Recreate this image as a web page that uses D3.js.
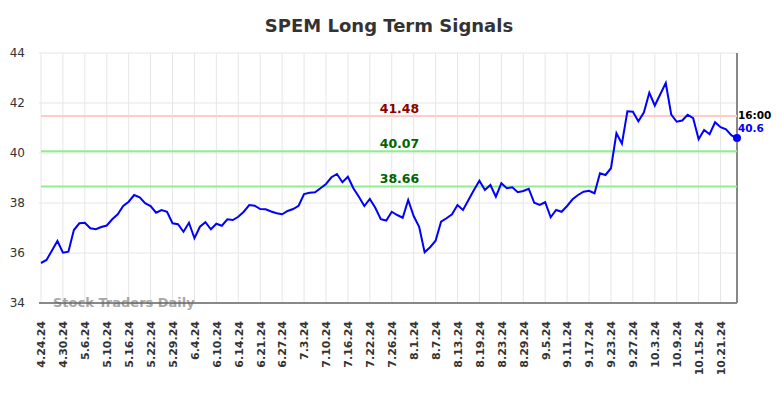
<!DOCTYPE html>
<meta charset="utf-8">
<head>
  <title>SPEM Long Term Signals</title>
</head>

<style>
body {
  margin: 0;
  font-family: "DejaVu Sans", sans-serif;
  background: #fff;
}

#chart .grid line {
  stroke: #e6e6e6;
  stroke-width: 1;
}

#chart .price {
  fill: none;
  stroke: #0000ff;
  stroke-width: 2;
}
</style>

<body>
  <div id="chart">
    <svg width="784" height="398"></svg>
  </div>

  <script src="https://cdnjs.cloudflare.com/ajax/libs/d3/7.8.5/d3.min.js"></script>

  <script>

  // trading days, 4.24.24 .. 10.24.24
  var dates = [
    "4.24.24","4.25.24","4.26.24","4.29.24","4.30.24",
    "5.1.24","5.2.24","5.3.24","5.6.24","5.7.24","5.8.24","5.9.24","5.10.24",
    "5.13.24","5.14.24","5.15.24","5.16.24","5.17.24","5.20.24","5.21.24","5.22.24",
    "5.23.24","5.24.24","5.28.24","5.29.24","5.30.24","5.31.24",
    "6.3.24","6.4.24","6.5.24","6.6.24","6.7.24","6.10.24","6.11.24","6.12.24","6.13.24","6.14.24",
    "6.17.24","6.18.24","6.20.24","6.21.24","6.24.24","6.25.24","6.26.24","6.27.24","6.28.24",
    "7.1.24","7.2.24","7.3.24","7.5.24","7.8.24","7.9.24","7.10.24","7.11.24","7.12.24",
    "7.15.24","7.16.24","7.17.24","7.18.24","7.19.24","7.22.24","7.23.24","7.24.24","7.25.24","7.26.24",
    "7.29.24","7.30.24","7.31.24",
    "8.1.24","8.2.24","8.5.24","8.6.24","8.7.24","8.8.24","8.9.24","8.12.24","8.13.24","8.14.24",
    "8.15.24","8.16.24","8.19.24","8.20.24","8.21.24","8.22.24","8.23.24","8.26.24","8.27.24","8.28.24",
    "8.29.24","8.30.24",
    "9.3.24","9.4.24","9.5.24","9.6.24","9.9.24","9.10.24","9.11.24","9.12.24","9.13.24","9.16.24",
    "9.17.24","9.18.24","9.19.24","9.20.24","9.23.24","9.24.24","9.25.24","9.26.24","9.27.24","9.30.24",
    "10.1.24","10.2.24","10.3.24","10.4.24","10.7.24","10.8.24","10.9.24","10.10.24","10.11.24",
    "10.14.24","10.15.24","10.16.24","10.17.24","10.18.24","10.21.24","10.22.24","10.23.24","10.24.24"
  ];

  var prices = [
    35.6, 35.72, 36.1, 36.48, 36.01, 36.05, 36.92, 37.19, 37.21, 36.99,
    36.95, 37.04, 37.1, 37.35, 37.55, 37.88, 38.05, 38.32, 38.23, 37.99,
    37.88, 37.61, 37.72, 37.65, 37.19, 37.15, 36.85, 37.21, 36.59, 37.05,
    37.23, 36.95, 37.17, 37.09, 37.35, 37.32, 37.45, 37.65, 37.92, 37.89,
    37.76, 37.75, 37.66, 37.59, 37.55, 37.68, 37.76, 37.89, 38.36, 38.41,
    38.43, 38.59, 38.76, 39.03, 39.16, 38.83, 39.05, 38.59, 38.25, 37.88,
    38.16, 37.81, 37.35, 37.3, 37.65, 37.52, 37.41, 38.12, 37.48, 37.05,
    36.03, 36.23, 36.49, 37.25, 37.39, 37.55, 37.92, 37.72, 38.12, 38.52,
    38.89, 38.52, 38.72, 38.25, 38.79, 38.59, 38.63, 38.43, 38.48, 38.57,
    38.01, 37.92, 38.03, 37.43, 37.72, 37.65, 37.88, 38.15, 38.32, 38.45,
    38.49, 38.39, 39.19, 39.12, 39.39, 40.79, 40.37, 41.67, 41.65, 41.27,
    41.62, 42.41, 41.9, 42.35, 42.8, 41.54, 41.25, 41.3, 41.53, 41.39,
    40.55, 40.92, 40.75, 41.23, 41.03, 40.95, 40.7, 40.6
  ];

  var yTicks = [34, 36, 38, 40, 42, 44];

  var levels = [41.48, 40.07, 38.66];
  var levelKinds = ["resistance", "support", "support"];

  var lastTime = "16:00";

  var svg = d3.select('#chart svg');

  var plotLeft = 41, plotRight = 737, plotTop = 53, plotBottom = 303;

  var x = d3.scaleLinear()
    .domain([0, dates.length - 1])
    .range([plotLeft, plotRight]);

  var y = d3.scaleLinear()
    .domain([34, 44])
    .range([plotBottom, plotTop]);

  // every 4th trading day gets a label
  var labelIdx = d3.range(0, dates.length, 4);

  var grid = svg.append('g').attr('class', 'grid');

  grid.selectAll('line.v')
    .data(labelIdx)
    .enter().append('line')
    .attr('class', 'v')
    .attr('x1', d => x(d)).attr('x2', d => x(d))
    .attr('y1', plotTop).attr('y2', plotBottom);

  grid.selectAll('line.h')
    .data(yTicks)
    .enter().append('line')
    .attr('class', 'h')
    .attr('x1', plotLeft - 2).attr('x2', plotRight)
    .attr('y1', d => y(d)).attr('y2', d => y(d));

  // y axis labels
  var yAxis = d3.axisLeft(y).tickValues(yTicks).tickSize(0).tickPadding(0);
  svg.append('g')
    .attr('transform', 'translate(' + (plotLeft - 16) + ',0)')
    .call(yAxis)
    .call(g => g.select('.domain').remove())
    .selectAll('text')
    .attr('fill', '#333')
    .style('font-family', '"DejaVu Sans", sans-serif')
    .style('font-size', '12px');

  // x axis labels, rotated
  var xAxis = d3.axisBottom(x)
    .tickValues(labelIdx)
    .tickFormat(d => dates[d])
    .tickSize(0);
  svg.append('g')
    .attr('transform', 'translate(0,' + plotBottom + ')')
    .call(xAxis)
    .call(g => g.select('.domain').remove())
    .selectAll('text')
    .attr('fill', '#333')
    .style('font-family', '"DejaVu Sans", sans-serif')
    .style('font-size', '11px')
    .style('font-weight', 'bold')
    .attr('text-anchor', 'end')
    .attr('transform', 'rotate(-90)')
    .attr('x', -18)
    .attr('y', 0)
    .attr('dy', '0.35em');

  // watermark
  svg.append('text')
    .attr('x', 53)
    .attr('y', 306.5)
    .attr('fill', '#999')
    .attr('opacity', 0.85)
    .style('font-size', '13px')
    .style('font-weight', 'bold')
    .text('Stock Traders Daily');

  // axis frame
  svg.append('line')
    .attr('x1', plotLeft - 2).attr('x2', plotRight)
    .attr('y1', plotBottom).attr('y2', plotBottom)
    .attr('stroke', '#666').attr('stroke-width', 1.5);
  svg.append('line')
    .attr('x1', plotRight).attr('x2', plotRight)
    .attr('y1', plotTop).attr('y2', plotBottom)
    .attr('stroke', '#888').attr('stroke-width', 2);

  // signal levels
  svg.selectAll('line.level')
    .data(levels)
    .enter().append('line')
    .attr('class', 'level')
    .attr('x1', plotLeft).attr('x2', plotRight)
    .attr('y1', d => y(d)).attr('y2', d => y(d))
    .attr('stroke', (d, i) => levelKinds[i] == 'resistance' ? '#ffcccc' : '#90ee90')
    .attr('stroke-width', 2);

  svg.selectAll('text.level')
    .data(levels)
    .enter().append('text')
    .attr('class', 'level')
    .attr('x', 399.5)
    .attr('y', d => y(d) - 3.5)
    .attr('text-anchor', 'middle')
    .attr('fill', (d, i) => levelKinds[i] == 'resistance' ? '#8b0000' : '#006400')
    .style('font-size', '12.5px')
    .style('font-weight', 'bold')
    .text(d => d.toFixed(2));

  // price line
  var line = d3.line()
    .x((d, i) => x(i))
    .y(d => y(d));

  svg.append('path')
    .datum(prices)
    .attr('class', 'price')
    .attr('d', line);

  var last = prices.length - 1;
  svg.append('circle')
    .attr('cx', x(last))
    .attr('cy', y(prices[last]))
    .attr('r', 4)
    .attr('fill', '#0000ff');

  svg.append('text')
    .attr('x', plotRight + 1)
    .attr('y', y(prices[last]) - 19)
    .attr('fill', '#000')
    .style('font-size', '10.5px')
    .style('font-weight', 'bold')
    .text(lastTime);

  svg.append('text')
    .attr('x', plotRight + 1)
    .attr('y', y(prices[last]) - 6.5)
    .attr('fill', '#0000ff')
    .style('font-size', '10.5px')
    .style('font-weight', 'bold')
    .text(prices[last]);

  // title
  svg.append('text')
    .attr('x', 389)
    .attr('y', 32)
    .attr('text-anchor', 'middle')
    .attr('fill', '#333')
    .style('font-size', '18px')
    .style('font-weight', 'bold')
    .text('SPEM Long Term Signals');

  </script>
</body>
</html>
